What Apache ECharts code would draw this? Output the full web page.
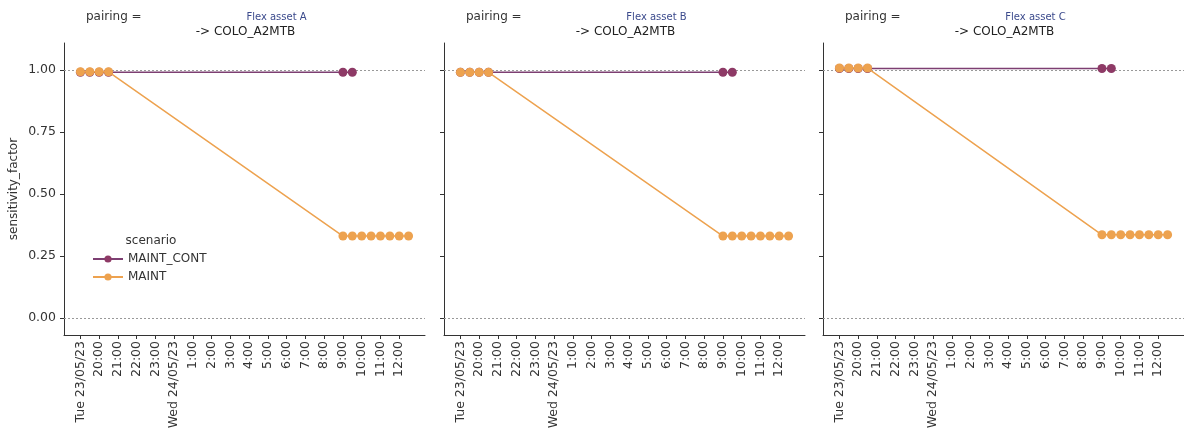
<!DOCTYPE html>
<html>
<head>
<meta charset="utf-8">
<script src="https://cdn.jsdelivr.net/npm/echarts@6/dist/echarts.min.js"></script>
<style>html,body{margin:0;padding:0;background:#fff}#c{width:1184px;height:435px}</style>
</head>
<body>
<div id="c"></div>
<script>
// ---- data ----
const panels = ['Flex asset A', 'Flex asset B', 'Flex asset C'];
const pairTarget = '-> COLO_A2MTB';
const seriesNames = ['MAINT_CONT', 'MAINT'];

const tickTimes = ['2023-05-23 19:00','2023-05-23 20:00','2023-05-23 21:00','2023-05-23 22:00','2023-05-23 23:00',
  '2023-05-24 00:00','2023-05-24 01:00','2023-05-24 02:00','2023-05-24 03:00','2023-05-24 04:00','2023-05-24 05:00',
  '2023-05-24 06:00','2023-05-24 07:00','2023-05-24 08:00','2023-05-24 09:00','2023-05-24 10:00','2023-05-24 11:00','2023-05-24 12:00'];
const tickLabels = ['Tue 23/05/23','20:00','21:00','22:00','23:00','Wed 24/05/23','1:00','2:00','3:00','4:00','5:00',
  '6:00','7:00','8:00','9:00','10:00','11:00','12:00'];
const yTicks = [0, 0.25, 0.5, 0.75, 1.0];

const maintContTimes = ['2023-05-23 19:00','2023-05-23 19:30','2023-05-23 20:00','2023-05-23 20:30','2023-05-24 09:00','2023-05-24 09:30'];
const maintContA = [0.99, 0.99, 0.99, 0.99, 0.99, 0.99];
const maintContB = [0.99, 0.99, 0.99, 0.99, 0.99, 0.99];
const maintContC = [1.005, 1.005, 1.005, 1.005, 1.005, 1.005];

const maintTimes = ['2023-05-23 19:00','2023-05-23 19:30','2023-05-23 20:00','2023-05-23 20:30',
  '2023-05-24 09:00','2023-05-24 09:30','2023-05-24 10:00','2023-05-24 10:30','2023-05-24 11:00','2023-05-24 11:30','2023-05-24 12:00','2023-05-24 12:30'];
const maintA = [0.992, 0.992, 0.992, 0.992, 0.33, 0.33, 0.33, 0.33, 0.33, 0.33, 0.33, 0.33];
const maintB = [0.99, 0.99, 0.99, 0.99, 0.33, 0.33, 0.33, 0.33, 0.33, 0.33, 0.33, 0.33];
const maintC = [1.007, 1.007, 1.007, 1.007, 0.335, 0.335, 0.335, 0.335, 0.335, 0.335, 0.335, 0.335];

// ---- helpers ----
function parseT(s){ const [d,t]=s.split(' '); const [Y,M,D]=d.split('-').map(Number); const [h,m]=t.split(':').map(Number); return Date.UTC(Y,M-1,D,h,m); }
const t0 = parseT(tickTimes[0]);
const toH = s => (parseT(s) - t0) / 3600000;
const tickH = tickTimes.map(toH);
const pairs = (ts, vs) => ts.map((t,i)=>[toH(t), vs[i]]);

const contVals = [maintContA, maintContB, maintContC];
const maintVals = [maintA, maintB, maintC];
const colCont = '#8e3a66';
const colLineCont = '#7d3f72';
const colMaint = '#eda24f';

const lefts = [64, 444, 823];
const W = 361, TOP = 43, H = 292;
const font = 'DejaVu Sans';
const FS = 12;

const grids = [], xAxes = [], yAxes = [], series = [], graphics = [];
panels.forEach((p, i) => {
  grids.push({left: lefts[i], top: TOP, width: W, height: H, containLabel: false});
  xAxes.push({
    type: 'value', gridIndex: i, min: -0.875, max: 18.375,
    axisLine: {show: true, onZero: false, lineStyle: {color: '#333', width: 1}},
    axisTick: {show: true, length: 4, customValues: tickH, lineStyle: {color: '#333'}},
    axisLabel: {show: true, rotate: 90, customValues: tickH, fontFamily: font, fontSize: 12.5, color: '#333', margin: 6,
      formatter: v => { const k = tickH.findIndex(h => Math.abs(h - v) < 1e-6); return k >= 0 ? tickLabels[k] : ''; }},
    splitLine: {show: false}
  });
  yAxes.push({
    type: 'value', gridIndex: i, min: -0.069, max: 1.108,
    name: i === 0 ? 'sensitivity_factor' : '', nameLocation: 'middle', nameGap: 44, nameRotate: 90,
    nameTextStyle: {fontFamily: font, fontSize: FS, color: '#333'},
    axisLine: {show: true, onZero: false, lineStyle: {color: '#333', width: 1}},
    axisTick: {show: true, length: 4, customValues: yTicks, lineStyle: {color: '#333'}},
    axisLabel: {show: i === 0, customValues: yTicks, fontFamily: font, fontSize: 12.5, color: '#333', margin: 8,
      formatter: v => v.toFixed(2)},
    splitLine: {show: false}
  });
  series.push({
    name: seriesNames[0], type: 'line', xAxisIndex: i, yAxisIndex: i,
    data: pairs(maintContTimes, contVals[i]),
    symbol: 'circle', symbolSize: 9, color: colCont,
    lineStyle: {width: 1.5, color: colLineCont}, itemStyle: {color: colCont},
    z: 3, animation: false,
    markLine: {silent: true, symbol: 'none', label: {show: false},
      lineStyle: {type: [2, 2], color: '#999', width: 1},
      data: [{yAxis: 1}, {yAxis: 0}], z: 1}
  });
  series.push({
    name: seriesNames[1], type: 'line', xAxisIndex: i, yAxisIndex: i,
    data: pairs(maintTimes, maintVals[i]),
    symbol: 'circle', symbolSize: 9, color: colMaint,
    lineStyle: {width: 1.5, color: colMaint}, itemStyle: {color: colMaint},
    z: 4, animation: false
  });
  const cx = lefts[i] + W / 2;
  graphics.push({type: 'text', x: lefts[i] + 22, y: 17,
    style: {text: 'pairing =', font: FS + 'px ' + font, fill: '#333', textAlign: 'left', textVerticalAlign: 'middle'}});
  graphics.push({type: 'text', x: cx + 32, y: 17,
    style: {text: p, font: '10px ' + font, fill: '#3b4a8c', textAlign: 'center', textVerticalAlign: 'middle'}});
  graphics.push({type: 'text', x: cx + 1, y: 32,
    style: {text: pairTarget, font: FS + 'px ' + font, fill: '#222', textAlign: 'center', textVerticalAlign: 'middle'}});
});
graphics.push({type: 'text', x: 151, y: 241,
  style: {text: 'scenario', font: FS + 'px ' + font, fill: '#333', textAlign: 'center', textVerticalAlign: 'middle'}});

const chart = echarts.init(document.getElementById('c'), null, {renderer: 'canvas'});
chart.setOption({
  animation: false,
  backgroundColor: '#fff',
  grid: grids, xAxis: xAxes, yAxis: yAxes, series: series,
  legend: {data: seriesNames, orient: 'vertical', left: 87, top: 248, itemGap: 6, itemWidth: 30, itemHeight: 9,
    textStyle: {fontFamily: font, fontSize: FS, color: '#333'}},
  graphic: graphics
});
</script>
</body>
</html>
